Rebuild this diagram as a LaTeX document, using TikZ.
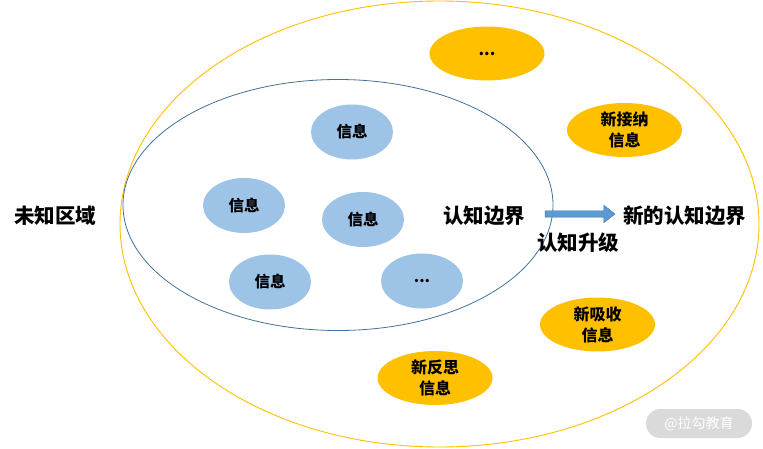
\documentclass[tikz,border=0pt]{standalone}
\usepackage{fontspec}
\newfontfamily\cjk{Noto Sans CJK SC}
\usetikzlibrary{shapes.geometric, shapes.arrows}
\definecolor{infoblue}{HTML}{9DC3E6}
\definecolor{newgold}{HTML}{FFC000}
\definecolor{edgeblue}{HTML}{41719C}
\definecolor{arrowblue}{HTML}{5B9BD5}
\definecolor{markgray}{HTML}{DADADA}
\tikzset{
  info/.style = {ellipse, fill = infoblue, minimum width = 82pt, minimum height = 55pt, inner sep = 0pt, font = \cjk\bfseries\fontsize{15.5}{19}\selectfont},
  newinfo/.style = {ellipse, fill = newgold, minimum width = 115pt, minimum height = 54pt, inner sep = 0pt, align = center, font = \cjk\bfseries\fontsize{16}{21}\selectfont},
  bigtext/.style = {inner sep = 0pt, font = \cjk\bfseries\fontsize{20.5}{24}\selectfont}
}

\begin{document}
\begin{tikzpicture}[x = 1pt, y = -1pt]
\useasboundingbox (0,0) rectangle (763,449);
% regions
\node[ellipse, draw = newgold, line width = 0.9pt, minimum width = 639pt, minimum height = 446pt, inner sep = 0pt] (newbound) at (439.5,224) {};
\node[ellipse, draw = edgeblue, line width = 0.8pt, minimum width = 430pt, minimum height = 251pt, inner sep = 0pt] (bound) at (338,205) {};
% known information
\node[info] (infoA) at (352,132) {信息};
\node[info] (infoB) at (244,205.5) {信息};
\node[info] (infoC) at (363,219.5) {信息};
\node[info] (infoD) at (270,282) {信息};
\node[info] (infoE) at (422,281) {...};
% new information
\node[newinfo] (newdots) at (487,53.5) {...};
\node[newinfo] (accept) at (624.5,130) {新接纳\\信息};
\node[newinfo] (absorb) at (597.5,324.5) {新吸收\\信息};
\node[newinfo] (reflect) at (435,378) {新反思\\信息};
% labels
\node[bigtext] (unknown) at (55,216) {未知区域};
\node[bigtext] (boundtext) at (484,216) {认知边界};
\node[bigtext] (newboundtext) at (684.5,216) {新的认知边界};
\node[bigtext] (upgradetext) at (578,243) {认知升级};
\node[single arrow, draw = edgeblue, fill = arrowblue, line width = 0.4pt, minimum height = 70pt, inner xsep = 0pt, inner ysep = 3pt, single arrow head extend = 5.5pt, single arrow tip angle = 76] (upgrade) at (578,214) {};
% watermark
\node[fill = markgray, rounded corners = 14.5pt, minimum width = 106pt, minimum height = 29pt, inner sep = 0pt, text = white, font = \cjk\fontsize{14}{16}\selectfont] (mark) at (699,423.5) {@拉勾教育};
\end{tikzpicture}
\end{document}
